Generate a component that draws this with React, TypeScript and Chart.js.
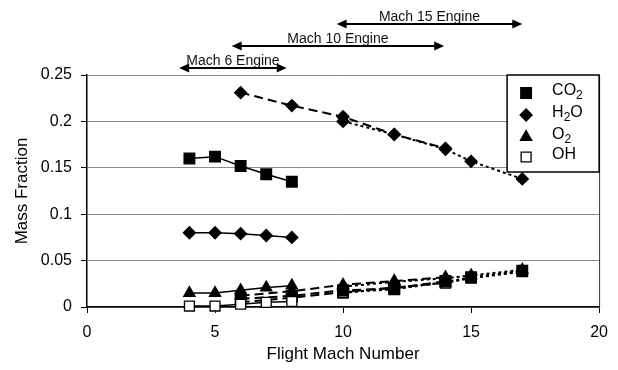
import React, { useEffect, useRef } from "react";
import { Chart, registerables } from "chart.js";

Chart.register(...registerables);

// ---- Data ----
const speciesLabels = ["CO₂", "H₂O", "O₂", "OH"];

const machM6 = [4, 5, 6, 7, 8];
const machM10 = [6, 8, 10, 12, 14];
const machM15 = [10, 12, 14, 15, 17];

const co2M6 = [0.16, 0.162, 0.152, 0.143, 0.135];
const h2oM6 = [0.08, 0.08, 0.079, 0.077, 0.075];
const o2M6 = [0.015, 0.015, 0.018, 0.021, 0.023];
const ohM6 = [0.001, 0.001, 0.003, 0.005, 0.006];

const co2M10 = [0.009, 0.012, 0.018, 0.02, 0.028];
const h2oM10 = [0.231, 0.217, 0.205, 0.186, 0.171];
const o2M10 = [0.012, 0.017, 0.024, 0.028, 0.032];
const ohM10 = [0.005, 0.01, 0.016, 0.021, 0.026];

const co2M15 = [0.016, 0.019, 0.027, 0.032, 0.039];
const h2oM15 = [0.2, 0.186, 0.17, 0.157, 0.138];
const o2M15 = [0.022, 0.027, 0.031, 0.034, 0.04];
const ohM15 = [0.015, 0.021, 0.026, 0.031, 0.038];

const engineLabels = ["Mach 6 Engine", "Mach 10 Engine", "Mach 15 Engine"];
const engineRangeStart = [3.6, 5.65, 9.75];
const engineRangeEnd = [7.8, 13.95, 17.0];

const xTicks = [0, 5, 10, 15, 20];
const yTicks = [0, 0.05, 0.1, 0.15, 0.2, 0.25];

// ---- Styles ----
const FONT = "'Liberation Sans', Arial, Helvetica, sans-serif";
type Marker = { style: string; radius: number; fill: string };
const markers: Marker[] = [
  { style: "rect", radius: 7.5, fill: "#000" },
  { style: "rectRot", radius: 6, fill: "#000" },
  { style: "triangle", radius: 6.5, fill: "#000" },
  { style: "rect", radius: 7, fill: "#fff" },
];
const engineDash = [[], [9, 5], [3, 3]];
const engineWidth = [1.5, 2, 2];

function pts(xs: number[], ys: number[]) {
  return xs.map((x, i) => ({ x, y: ys[i] }));
}

function makeDataset(label: string, xs: number[], ys: number[], sp: number, eng: number) {
  const m = markers[sp];
  return {
    label,
    data: pts(xs, ys),
    borderColor: "#000",
    borderWidth: engineWidth[eng],
    borderDash: engineDash[eng],
    pointStyle: m.style,
    pointRadius: m.radius,
    pointHoverRadius: m.radius,
    pointBackgroundColor: m.fill,
    pointBorderColor: "#000",
    pointBorderWidth: 1.3,
    fill: false,
    tension: 0,
    clip: false as const,
  };
}

function drawRichText(ctx: CanvasRenderingContext2D, text: string, x: number, y: number, size: number) {
  let cx = x;
  for (const ch of text) {
    if (ch === "₂") {
      ctx.font = `${Math.round(size * 0.72)}px ${FONT}`;
      ctx.fillText("2", cx, y + size * 0.28);
      cx += ctx.measureText("2").width;
    } else {
      ctx.font = `${size}px ${FONT}`;
      ctx.fillText(ch, cx, y);
      cx += ctx.measureText(ch).width;
    }
  }
}

function drawMarker(ctx: CanvasRenderingContext2D, m: Marker, x: number, y: number) {
  ctx.beginPath();
  if (m.style === "rect") {
    const s = m.radius * Math.SQRT1_2;
    ctx.rect(x - s, y - s, 2 * s, 2 * s);
  } else if (m.style === "rectRot") {
    const r = m.radius;
    ctx.moveTo(x, y - r);
    ctx.lineTo(x + r, y);
    ctx.lineTo(x, y + r);
    ctx.lineTo(x - r, y);
    ctx.closePath();
  } else {
    const r = m.radius;
    ctx.moveTo(x, y - r);
    ctx.lineTo(x + r * 0.866, y + r * 0.5);
    ctx.lineTo(x - r * 0.866, y + r * 0.5);
    ctx.closePath();
  }
  ctx.fillStyle = m.fill;
  ctx.fill();
  ctx.strokeStyle = "#000";
  ctx.lineWidth = 1.3;
  ctx.stroke();
}

const annotationPlugin = {
  id: "annotations",
  afterDraw(chart: any) {
    const { ctx, chartArea, scales } = chart;
    const xs = scales.x;
    ctx.save();
    // right border of plot area
    ctx.strokeStyle = "#333";
    ctx.lineWidth = 1;
    ctx.beginPath();
    ctx.moveTo(chartArea.right + 0.5, chartArea.top);
    ctx.lineTo(chartArea.right + 0.5, chartArea.bottom);
    ctx.stroke();

    // engine range arrows
    const offsets = [7, 29, 51];
    engineLabels.forEach((lab, i) => {
      const x1 = xs.getPixelForValue(engineRangeStart[i]);
      const x2 = xs.getPixelForValue(engineRangeEnd[i]);
      const y = chartArea.top - offsets[i];
      const hl = 10;
      const hw = 4.5;
      ctx.strokeStyle = "#000";
      ctx.fillStyle = "#000";
      ctx.lineWidth = 2;
      ctx.beginPath();
      ctx.moveTo(x1 + hl - 1, y);
      ctx.lineTo(x2 - hl + 1, y);
      ctx.stroke();
      ctx.beginPath();
      ctx.moveTo(x1, y);
      ctx.lineTo(x1 + hl, y - hw);
      ctx.lineTo(x1 + hl, y + hw);
      ctx.closePath();
      ctx.fill();
      ctx.beginPath();
      ctx.moveTo(x2, y);
      ctx.lineTo(x2 - hl, y - hw);
      ctx.lineTo(x2 - hl, y + hw);
      ctx.closePath();
      ctx.fill();
      ctx.font = `14px ${FONT}`;
      ctx.textAlign = "center";
      ctx.textBaseline = "alphabetic";
      ctx.fillStyle = "#111";
      ctx.fillText(lab, (x1 + x2) / 2, y - 3);
    });

    // legend box
    const bw = 92;
    const bh = 97;
    const bx = chartArea.right - bw;
    const by = chartArea.top;
    ctx.fillStyle = "#fff";
    ctx.fillRect(bx, by, bw, bh);
    ctx.strokeStyle = "#000";
    ctx.lineWidth = 1.5;
    ctx.strokeRect(bx, by, bw, bh);
    const rowY = [18, 40, 62, 82];
    ctx.textAlign = "left";
    ctx.textBaseline = "middle";
    speciesLabels.forEach((lab, i) => {
      const y = by + rowY[i];
      drawMarker(ctx, markers[i], bx + 19, y);
      ctx.fillStyle = "#000";
      drawRichText(ctx, lab, bx + 45, y - 2, 16);
    });
    ctx.restore();
  },
};

export default function App() {
  const ref = useRef<HTMLCanvasElement | null>(null);

  useEffect(() => {
    if (!ref.current) return;
    const datasets = [
      makeDataset(speciesLabels[0], machM6, co2M6, 0, 0),
      makeDataset(speciesLabels[1], machM6, h2oM6, 1, 0),
      makeDataset(speciesLabels[2], machM6, o2M6, 2, 0),
      makeDataset(speciesLabels[3], machM6, ohM6, 3, 0),
      makeDataset(speciesLabels[0], machM10, co2M10, 0, 1),
      makeDataset(speciesLabels[1], machM10, h2oM10, 1, 1),
      makeDataset(speciesLabels[2], machM10, o2M10, 2, 1),
      makeDataset(speciesLabels[3], machM10, ohM10, 3, 1),
      makeDataset(speciesLabels[0], machM15, co2M15, 0, 2),
      makeDataset(speciesLabels[1], machM15, h2oM15, 1, 2),
      makeDataset(speciesLabels[2], machM15, o2M15, 2, 2),
      makeDataset(speciesLabels[3], machM15, ohM15, 3, 2),
    ];
    const chart = new Chart(ref.current, {
      type: "line",
      data: { datasets } as any,
      options: {
        animation: false,
        responsive: false,
        devicePixelRatio: 1,
        layout: { padding: { top: 75, right: 18, left: 0, bottom: 0 } },
        plugins: { legend: { display: false }, tooltip: { enabled: false } },
        scales: {
          x: {
            type: "linear",
            min: 0,
            max: 20,
            afterBuildTicks: (s: any) => {
              s.ticks = xTicks.map((v) => ({ value: v }));
            },
            afterFit: (s: any) => {
              s.height = 63;
            },
            ticks: {
              color: "#000",
              padding: 10,
              font: { family: FONT, size: 16 },
              callback: (v: any) => String(v),
            },
            grid: { drawOnChartArea: false, tickLength: 6, tickColor: "#000", lineWidth: 1 },
            border: { color: "#000", width: 1.5 },
            title: {
              display: true,
              text: "Flight Mach Number",
              color: "#000",
              font: { family: FONT, size: 17 },
              padding: { top: 0, bottom: 5 },
            },
          },
          y: {
            type: "linear",
            min: 0,
            max: 0.25,
            afterBuildTicks: (s: any) => {
              s.ticks = yTicks.map((v) => ({ value: v }));
            },
            afterFit: (s: any) => {
              s.width = 87;
            },
            ticks: {
              color: "#000",
              padding: 9,
              font: { family: FONT, size: 16 },
              callback: (v: any) => String(Number(Number(v).toFixed(2))),
            },
            grid: { color: "#8a8a8a", tickColor: "#000", tickLength: 6, lineWidth: 1 },
            border: { color: "#000", width: 1.5 },
            title: {
              display: true,
              text: "Mass Fraction",
              color: "#000",
              font: { family: FONT, size: 17 },
              padding: { top: 12, bottom: 0 },
            },
          },
        },
      },
      plugins: [annotationPlugin],
    } as any);
    return () => chart.destroy();
  }, []);

  return (
    <div style={{ position: "fixed", left: 0, top: 0, width: 618, height: 370, background: "#fff" }}>
      <canvas ref={ref} width={618} height={370} style={{ display: "block", width: 618, height: 370 }} />
    </div>
  );
}
